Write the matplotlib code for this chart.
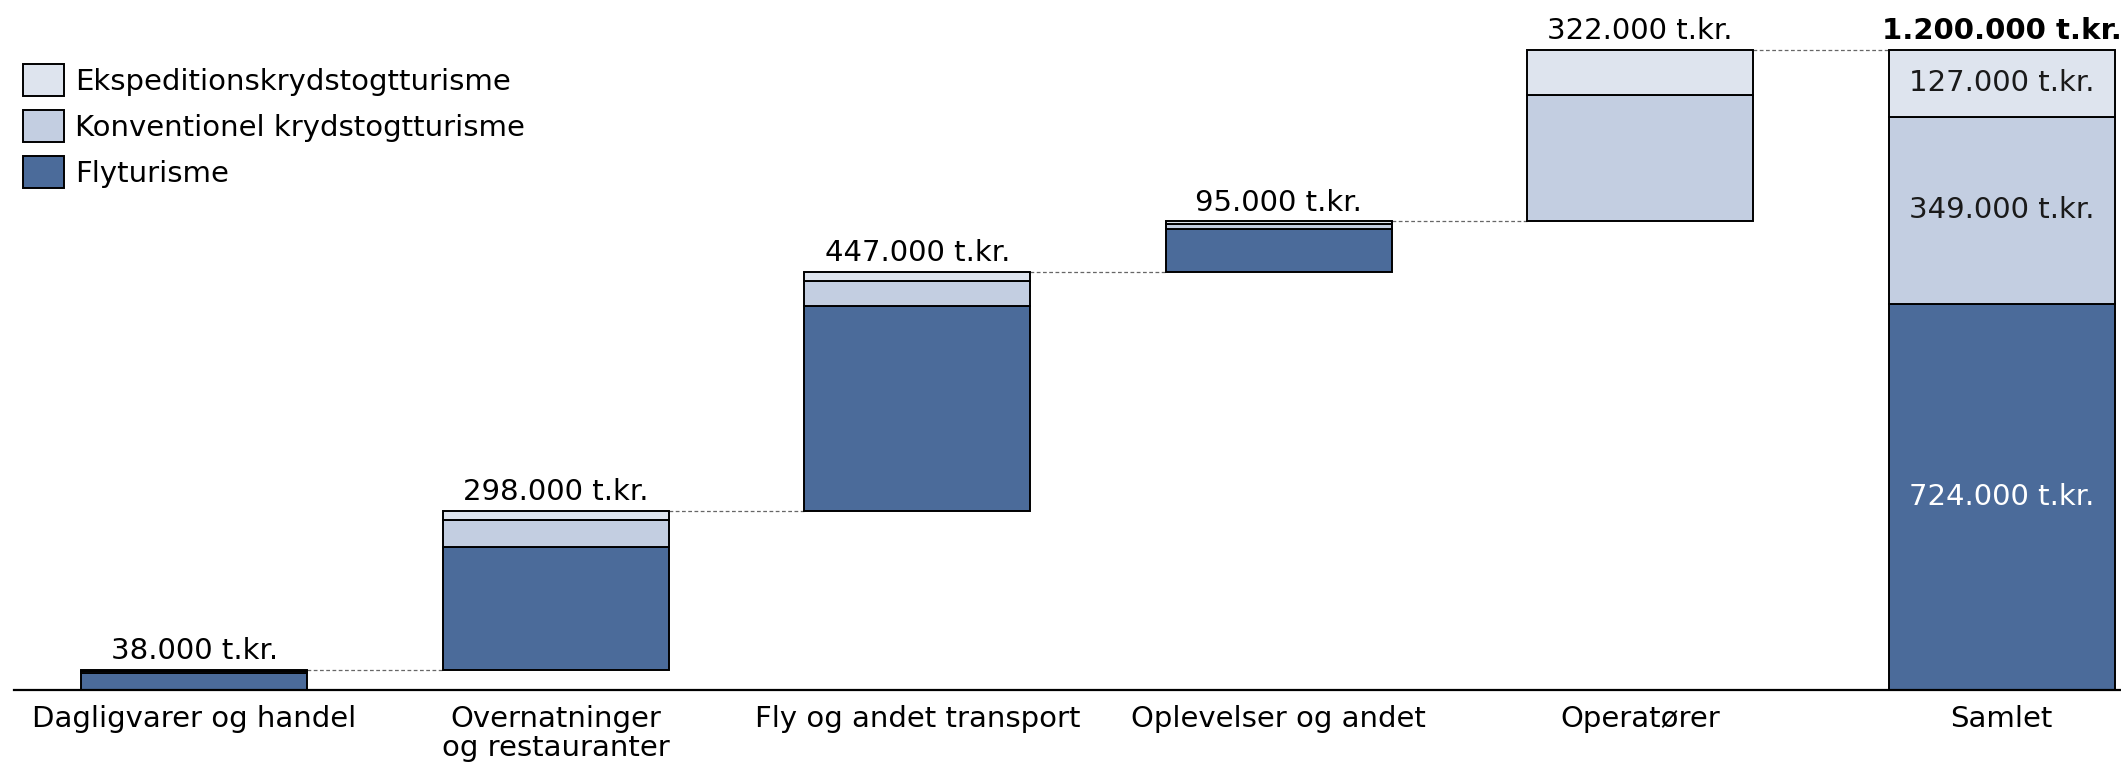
import matplotlib.pyplot as plt
from matplotlib.patches import Rectangle
import numpy as np

plt.rcParams['font.family'] = ['DejaVu Sans']

categories = ["Dagligvarer og handel", "Overnatninger\nog restauranter",
              "Fly og andet transport", "Oplevelser og andet", "Operatører"]
total_label = "Samlet"

# t.kr. per segment
flyturisme = [31000, 230000, 383000, 80000, 0]
konventionel = [4000, 50000, 48000, 10000, 237000]
ekspedition = [3000, 18000, 16000, 5000, 85000]

series_names = ["Flyturisme", "Konventionel krydstogtturisme", "Ekspeditionskrydstogtturisme"]
colors = ["#4B6B9A", "#C3CEE1", "#DEE4EE"]


def fmt(v):
    return f"{v:,}".replace(",", ".") + " t.kr."


fig = plt.figure(figsize=(21.21, 7.66), dpi=100)
ax = fig.add_axes([0.0064, 0.0992, 0.9936, 0.9008])

series = [flyturisme, konventionel, ekspedition]
n = len(categories)
width = 0.625
fs = 21

base = 0
tops = []
for i in range(n):
    bottom = base
    for s, c in zip(series, colors):
        v = s[i]
        if v > 0:
            ax.bar(i, v, width, bottom=bottom, color=c, edgecolor='black', linewidth=1.4, zorder=2)
        bottom += v
    total = sum(s[i] for s in series)
    ax.text(i, base + total + 9000, fmt(total), ha='center', va='bottom', fontsize=fs)
    base += total
    tops.append(base)

# total bar
xt = n
bottom = 0
text_colors = ['white', '#1a1a1a', '#1a1a1a']
for s, c, tc in zip(series, colors, text_colors):
    v = sum(s)
    ax.bar(xt, v, width, bottom=bottom, color=c, edgecolor='black', linewidth=1.4, zorder=2)
    ax.text(xt, bottom + v / 2, fmt(v), ha='center', va='center', fontsize=fs, color=tc)
    bottom += v
ax.text(xt, bottom + 9000, fmt(bottom), ha='center', va='bottom', fontsize=fs, fontweight='bold')

# connectors
for i in range(n):
    ax.plot([i + width / 2, i + 1 - width / 2], [tops[i], tops[i]],
            color='#666666', lw=0.9, ls=(0, (3, 2)), zorder=1)

ax.set_xlim(-0.5, 5.33)
ax.set_ylim(0, 1200000 * 690 / 640.5)
ax.set_xticks(range(n + 1))
ax.set_xticklabels(categories + [total_label], fontsize=fs, linespacing=1.05)
ax.tick_params(axis='x', length=0, pad=11)
ax.set_yticks([])
for sp in ['top', 'right', 'left']:
    ax.spines[sp].set_visible(False)
ax.spines['bottom'].set_linewidth(1.6)

# legend
W, H = 2121, 766
for k, (name, c) in enumerate(zip(series_names[::-1], colors[::-1])):
    yc = 80 + k * 46
    fig.patches.append(Rectangle((23 / W, 1 - (yc + 15.5) / H), 41 / W, 31 / H,
                                 transform=fig.transFigure, facecolor=c,
                                 edgecolor='black', linewidth=1.4))
    fig.text(75 / W, 1 - (yc + 2) / H, name, ha='left', va='center', fontsize=fs)

fig.savefig("out.png", dpi=100)
